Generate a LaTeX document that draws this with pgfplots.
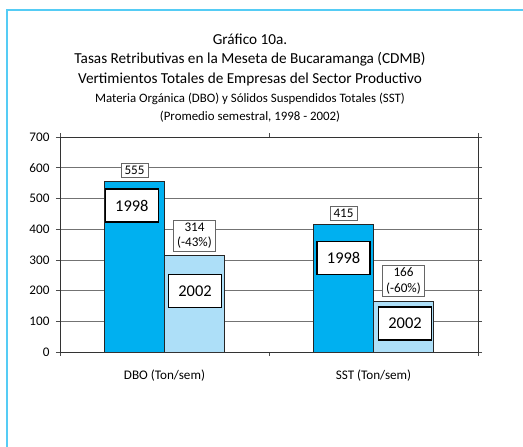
\documentclass[border=0pt]{standalone}
\usepackage{fontspec}
\setmainfont{Carlito}
\usepackage{pgfplots}
\pgfplotsset{compat=1.18}
\definecolor{frameblue}{RGB}{85,204,245}
\definecolor{barA}{RGB}{0,176,240}
\definecolor{barB}{RGB}{173,223,248}

\begin{document}
\begin{tikzpicture}
\useasboundingbox (0bp,0bp) rectangle (523bp,447bp);
\draw[frameblue,line width=2.5bp] (523bp,437bp) -- (7bp,437bp) -- (7bp,0bp);

% titles
\node[font=\fontsize{15.3}{18}\selectfont] at (250bp,408bp) {Gráfico 10a.};
\node[font=\fontsize{15.3}{18}\selectfont] at (250bp,388bp) {Tasas Retributivas en la Meseta de Bucaramanga (CDMB)};
\node[font=\fontsize{15.3}{18}\selectfont] at (250bp,368bp) {Vertimientos Totales de Empresas del Sector Productivo};
\node[font=\fontsize{12.9}{15}\selectfont] at (250bp,348bp) {Materia Orgánica (DBO) y Sólidos Suspendidos Totales (SST)};
\node[font=\fontsize{12.9}{15}\selectfont] at (250bp,330bp) {(Promedio semestral, 1998 - 2002)};

\begin{axis}[
  at={(60bp,95bp)},anchor=south west,
  scale only axis,width=418bp,height=215bp,
  xmin=0,xmax=2,ymin=0,ymax=700,
  xtick={0.5,1.5},
  xticklabels={DBO (Ton/sem),SST (Ton/sem)},
  minor xtick={0,1,2},
  major x tick style={draw=none},
  ytick={0,100,...,700},
  tick align=outside,
  major tick length=4bp,minor tick length=4bp,
  ymajorgrids,grid style={black!55,line width=0.55pt},
  axis line style={black!80,line width=0.8pt},
  tick style={black!70,line width=0.7pt},
  tick label style={font=\fontsize{13.2}{15}\selectfont},
  xticklabel style={yshift=-10bp},
  yticklabel style={xshift=-3bp},
  /pgf/number format/assume math mode=true,
  nodes near coords,
  point meta=explicit symbolic,
  every node near coord/.append style={
    font=\fontsize{13.2}{15.5}\selectfont,draw=black!60,fill=white,
    align=center,anchor=south,inner xsep=3.5bp,inner ysep=2.5bp,outer sep=0pt,yshift=4.5bp,
    line width=0.6pt},
]
\addplot[ybar,bar width=60bp,bar shift=-30bp,fill=barA,draw=black!85,line width=0.6pt,
  every node near coord/.append style={xshift=-30bp}]
  coordinates {(0.5,555) [555] (1.5,415) [415]};
\addplot[ybar,bar width=60bp,bar shift=30bp,fill=barB,draw=black!85,line width=0.6pt,
  every node near coord/.append style={xshift=30bp}]
  coordinates {(0.5,314) [{314\\(-43\%)}] (1.5,166) [{166\\(-60\%)}]};

\tikzset{yrlab/.style={draw=black,fill=white,line width=1.4pt,
  minimum width=53bp,minimum height=33bp,inner sep=0pt,
  font=\fontsize{16.5}{18}\selectfont}}
\node[yrlab] at (axis cs:0.344,477) {1998};
\node[yrlab] at (axis cs:0.646,199) {2002};
\node[yrlab] at (axis cs:1.357,306) {1998};
\node[yrlab] at (axis cs:1.651,93) {2002};
\end{axis}
\end{tikzpicture}
\end{document}
